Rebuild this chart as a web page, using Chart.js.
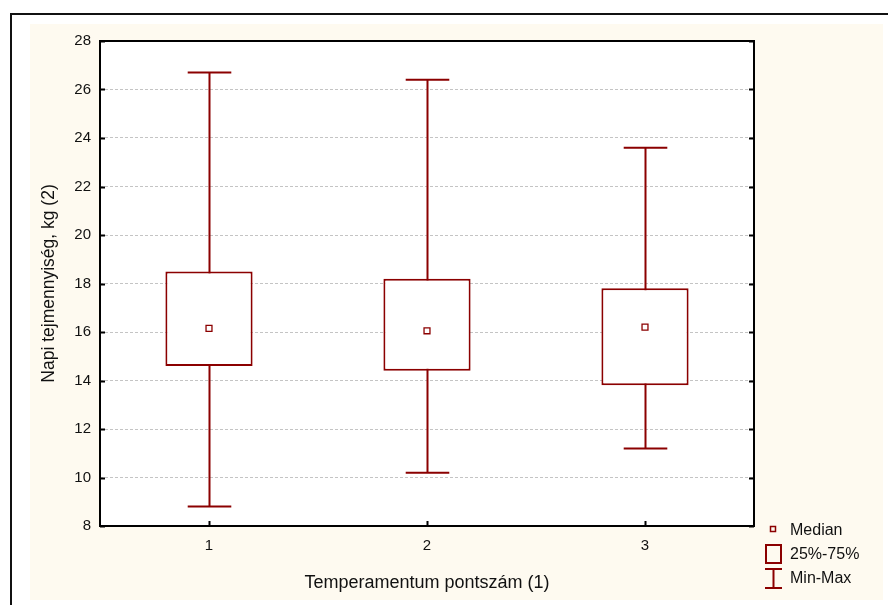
<!DOCTYPE html>
<html>
<head>
<meta charset="utf-8">
<script src="https://cdn.jsdelivr.net/npm/chart.js@4"></script>
<style>
  html, body { margin: 0; padding: 0; background: #ffffff; }
  #wrap { position: relative; width: 888px; height: 605px; }
</style>
</head>
<body>
<div id="wrap"><canvas id="c" width="888" height="605"></canvas></div>
<script>
// ---- data ----
const categories = ['1', '2', '3'];
const minValues    = [8.8, 10.2, 11.2];
const q1Values     = [14.6, 14.4, 13.8];
const medianValues = [16.15, 16.05, 16.2];
const q3Values     = [18.5, 18.2, 17.8];
const maxValues    = [26.7, 26.4, 23.6];
const yTickValues  = [8, 10, 12, 14, 16, 18, 20, 22, 24, 26, 28];
const legendLabels = ['Median', '25%-75%', 'Min-Max'];
const xTitle = 'Temperamentum pontszám (1)';
const yTitle = 'Napi tejmennyiség, kg (2)';

const RED = '#8b0000';
const FONT = '"Liberation Sans", Arial, sans-serif';

const framePlugin = {
  id: 'frame',
  beforeDraw(chart) {
    const ctx = chart.ctx;
    ctx.save();
    ctx.fillStyle = '#ffffff';
    ctx.fillRect(0, 0, chart.width, chart.height);
    ctx.strokeStyle = '#111';
    ctx.lineWidth = 2;
    ctx.strokeRect(11, 14, 1000, 1000);
    ctx.fillStyle = '#fefaf0';
    ctx.fillRect(30, 24, 853, 576);
    const a = chart.chartArea;
    ctx.fillStyle = '#ffffff';
    ctx.fillRect(a.left, a.top, a.right - a.left, a.bottom - a.top);
    ctx.restore();
  },
  beforeDatasetsDraw(chart) {
    const ctx = chart.ctx;
    const y = chart.scales.y;
    const meta = chart.getDatasetMeta(0);
    ctx.save();
    ctx.strokeStyle = RED;
    ctx.lineWidth = 2;
    meta.data.forEach((bar, i) => {
      const x = Math.round(bar.x) + 0.5;
      const half = bar.width / 4;
      const yMin = y.getPixelForValue(minValues[i]);
      const yMax = y.getPixelForValue(maxValues[i]);
      ctx.beginPath();
      ctx.moveTo(x, yMin); ctx.lineTo(x, yMax);
      ctx.moveTo(x - half, yMin); ctx.lineTo(x + half, yMin);
      ctx.moveTo(x - half, yMax); ctx.lineTo(x + half, yMax);
      ctx.stroke();
    });
    ctx.restore();
  },
  afterDraw(chart) {
    const ctx = chart.ctx;
    const a = chart.chartArea;
    const y = chart.scales.y;
    const xs = chart.scales.x;
    ctx.save();
    ctx.strokeStyle = '#000';
    ctx.lineWidth = 2;
    ctx.strokeRect(a.left, a.top, a.right - a.left, a.bottom - a.top);
    ctx.beginPath();
    yTickValues.forEach(v => {
      const py = Math.round(y.getPixelForValue(v)) + 0.5;
      ctx.moveTo(a.left, py); ctx.lineTo(a.left + 5, py);
      ctx.moveTo(a.right, py); ctx.lineTo(a.right - 5, py);
    });
    categories.forEach((c, i) => {
      const px = Math.round(xs.getPixelForValue(i)) + 0.5;
      ctx.moveTo(px, a.bottom); ctx.lineTo(px, a.bottom - 5);
    });
    ctx.stroke();

    // legend
    const lx = 765, lw = 17;
    ctx.strokeStyle = RED;
    ctx.fillStyle = '#ffffff';
    ctx.lineWidth = 1.5;
    ctx.strokeRect(770.5, 526.5, 5, 5);
    ctx.lineWidth = 2;
    ctx.strokeRect(lx + 1, 545, lw - 2, 18);
    ctx.beginPath();
    ctx.moveTo(lx, 569); ctx.lineTo(lx + lw, 569);
    ctx.moveTo(lx + lw / 2, 569); ctx.lineTo(lx + lw / 2, 588);
    ctx.moveTo(lx, 588); ctx.lineTo(lx + lw, 588);
    ctx.stroke();
    ctx.fillStyle = '#111';
    ctx.font = '16px ' + FONT;
    ctx.textBaseline = 'middle';
    ctx.textAlign = 'left';
    ctx.fillText(legendLabels[0], 790, 531);
    ctx.fillText(legendLabels[1], 790, 555);
    ctx.fillText(legendLabels[2], 790, 579);
    ctx.restore();
  }
};

new Chart(document.getElementById('c'), {
  type: 'bar',
  data: {
    labels: categories,
    datasets: [
      {
        type: 'bar',
        data: q1Values.map((q, i) => [q, q3Values[i]]),
        backgroundColor: '#ffffff',
        borderColor: RED,
        borderWidth: 2,
        borderSkipped: false,
        barPercentage: 0.4,
        categoryPercentage: 1.0,
        order: 2
      },
      {
        type: 'line',
        data: medianValues,
        showLine: false,
        pointStyle: 'rect',
        pointRadius: 4.2,
        pointHoverRadius: 4.2,
        pointBackgroundColor: '#ffffff',
        pointBorderColor: RED,
        pointBorderWidth: 1.3,
        order: 1
      }
    ]
  },
  options: {
    responsive: false,
    animation: false,
    events: [],
    layout: { padding: { left: 30, top: 41, right: 134, bottom: 5 } },
    plugins: { legend: { display: false }, tooltip: { enabled: false } },
    scales: {
      x: {
        offset: true,
        grid: { display: false, drawTicks: false },
        border: { display: false },
        ticks: { color: '#111', font: { family: FONT, size: 15 }, padding: 11 },
        title: { display: true, text: xTitle, color: '#111', font: { family: FONT, size: 18 }, padding: { top: 0, bottom: 6 } },
        afterFit(s) { s.height = 74; }
      },
      y: {
        min: 8, max: 28,
        afterBuildTicks(s) { s.ticks = yTickValues.map(v => ({ value: v })); },
        grid: {
          drawTicks: false,
          color: ctx => (ctx.tick && (ctx.tick.value === 8 || ctx.tick.value === 28)) ? 'rgba(0,0,0,0)' : '#c4c4c4',
          lineWidth: 1
        },
        border: { display: false, dash: [3, 2] },
        ticks: { color: '#111', font: { family: FONT, size: 15 }, padding: 9 },
        title: { display: true, text: yTitle, color: '#111', font: { family: FONT, size: 17.5 }, padding: { top: 9, bottom: 0 } },
        afterFit(s) { s.width = 70; }
      }
    }
  },
  plugins: [framePlugin]
});
</script>
</body>
</html>
